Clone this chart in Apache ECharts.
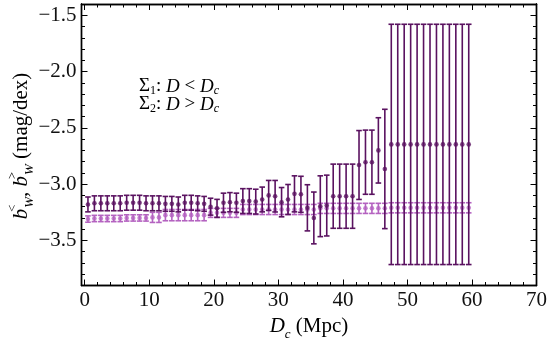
<!DOCTYPE html>
<html><head><meta charset="utf-8">
<script src="https://cdn.jsdelivr.net/npm/echarts@6/dist/echarts.min.js"></script>
<style>html,body{margin:0;padding:0;background:#fff}#c{width:550px;height:347px}</style>
</head><body><div id="c"></div>
<script>
// ---- data ----
const dc = [0.5,1.5,2.5,3.5,4.5,5.5,6.5,7.5,8.5,9.5,10.5,11.5,12.5,13.5,14.5,15.5,16.5,17.5,18.5,19.5,
  20.5,21.5,22.5,23.5,24.5,25.5,26.5,27.5,28.5,29.5,30.5,31.5,32.5,33.5,34.5,35.5,36.5,37.5,38.5,39.5,
  40.5,41.5,42.5,43.5,44.5,45.5,46.5,47.5,48.5,49.5,50.5,51.5,52.5,53.5,54.5,55.5,56.5,57.5,58.5,59.5];
const sigma1Val = [-3.31,-3.305,-3.305,-3.305,-3.305,-3.305,-3.3,-3.3,-3.3,-3.3,
  -3.295,-3.295,-3.275,-3.275,-3.275,-3.275,-3.275,-3.275,-3.275,-3.255,
  -3.255,-3.255,-3.255,-3.255,-3.225,-3.225,-3.225,-3.225,-3.225,-3.225,
  -3.225,-3.225,-3.225,-3.225,-3.225,-3.225,-3.215,-3.215,-3.215,-3.215,
  -3.215,-3.215,-3.215,-3.215,-3.215,-3.215,-3.215,-3.21,-3.21,-3.21,
  -3.21,-3.21,-3.21,-3.21,-3.21,-3.21,-3.21,-3.21,-3.21,-3.21];
const sigma1Err = [0.028,0.028,0.028,0.028,0.028,0.028,0.028,0.028,0.028,0.028,
  0.045,0.045,0.05,0.05,0.05,0.05,0.05,0.05,0.05,0.04,
  0.04,0.04,0.04,0.04,0.045,0.045,0.045,0.045,0.045,0.045,
  0.045,0.045,0.045,0.045,0.045,0.045,0.045,0.045,0.045,0.045,
  0.045,0.045,0.045,0.045,0.045,0.045,0.045,0.045,0.045,0.045,
  0.045,0.045,0.045,0.045,0.045,0.045,0.045,0.045,0.045,0.045];
const sigma2Val = [-3.18,-3.17,-3.17,-3.17,-3.17,-3.17,-3.165,-3.165,-3.165,-3.17,
  -3.17,-3.17,-3.175,-3.175,-3.18,-3.165,-3.165,-3.17,-3.175,-3.2,
  -3.215,-3.165,-3.16,-3.165,-3.15,-3.15,-3.155,-3.136,-3.1,-3.107,
  -3.16,-3.136,-3.086,-3.09,-3.21,-3.3,-3.196,-3.19,-3.107,-3.107,
  -3.107,-3.107,-2.83,-2.805,-2.805,-2.7,-2.865,-2.647,-2.647,-2.647,
  -2.647,-2.647,-2.647,-2.647,-2.647,-2.647,-2.647,-2.647,-2.647,-2.647];
const sigma2Err = [0.066,0.066,0.066,0.066,0.066,0.066,0.066,0.066,0.066,0.066,
  0.066,0.066,0.066,0.066,0.066,0.066,0.066,0.066,0.066,0.075,
  0.08,0.085,0.085,0.085,0.11,0.11,0.11,0.11,0.133,0.14,
  0.13,0.133,0.16,0.16,0.205,0.23,0.27,0.27,0.285,0.285,
  0.285,0.285,0.306,0.285,0.285,0.29,0.53,1.067,1.067,1.067,
  1.067,1.067,1.067,1.067,1.067,1.067,1.067,1.067,1.067,1.067];
const xTicks = [0,10,20,30,40,50,60,70];
const yTicks = [-3.5,-3.0,-2.5,-2.0,-1.5];
const xMinor = [2,4,6,8,12,14,16,18,22,24,26,28,32,34,36,38,42,44,46,48,52,54,56,58,62,64,66,68];
const yMinor = [-3.8,-3.7,-3.6,-3.4,-3.3,-3.2,-3.1,-2.9,-2.8,-2.7,-2.6,-2.4,-2.3,-2.2,-2.1,-1.9,-1.8,-1.7,-1.6];

// ---- style ----
const DARK = '#5a1260';
const LIGHT = '#b462c0';
const FONT = '"Liberation Serif", "DejaVu Serif", serif';
const X_MIN = -0.5, X_MAX = 70, Y_MIN = -3.9, Y_MAX = -1.4;

function errRender(color, capHalf, lw) {
  return function (params, api) {
    const x = api.value(0), lo = api.value(1), hi = api.value(2);
    const a = api.coord([x, lo]), b = api.coord([x, hi]);
    const st = { stroke: color, lineWidth: lw, fill: null };
    return { type: 'group', children: [
      { type: 'line', shape: { x1: a[0], y1: a[1], x2: b[0], y2: b[1] }, style: st },
      { type: 'line', shape: { x1: a[0] - capHalf, y1: a[1], x2: a[0] + capHalf, y2: a[1] }, style: st },
      { type: 'line', shape: { x1: b[0] - capHalf, y1: b[1], x2: b[0] + capHalf, y2: b[1] }, style: st }
    ]};
  };
}
const bars1 = dc.map((x, i) => [x, sigma1Val[i] - sigma1Err[i], sigma1Val[i] + sigma1Err[i]]);
const bars2 = dc.map((x, i) => [x, sigma2Val[i] - sigma2Err[i], sigma2Val[i] + sigma2Err[i]]);
const pts1 = dc.map((x, i) => [x, sigma1Val[i]]);
const pts2 = dc.map((x, i) => [x, sigma2Val[i]]);

const lineSt = { show: true, onZero: false, lineStyle: { color: '#000', width: 1.4 } };
function xAx(pos, ticks, len, labels) {
  return { type: 'value', min: X_MIN, max: X_MAX, position: pos,
    axisLine: lineSt, splitLine: { show: false },
    axisTick: { show: true, inside: true, length: len, customValues: ticks, lineStyle: { color: '#000', width: 1 } },
    axisLabel: labels ? { show: true, customValues: ticks, color: '#111', fontFamily: FONT, fontSize: 21, margin: 4 } : { show: false } };
}
function yAx(pos, ticks, len, labels) {
  return { type: 'value', min: Y_MIN, max: Y_MAX, position: pos,
    axisLine: lineSt, splitLine: { show: false },
    axisTick: { show: true, inside: true, length: len, customValues: ticks, lineStyle: { color: '#000', width: 1 } },
    axisLabel: labels ? { show: true, customValues: ticks, color: '#111', fontFamily: FONT, fontSize: 21, margin: 5,
      formatter: v => v.toFixed(1).replace('-', '\u2212') } : { show: false } };
}

const richBase = {
  n: { fontFamily: FONT, fontSize: 21, color: '#222', lineHeight: 30, verticalAlign: 'middle' },
  i: { fontFamily: FONT, fontSize: 21, fontStyle: 'italic', color: '#222', lineHeight: 30, verticalAlign: 'middle' },
  sub: { fontFamily: FONT, fontSize: 13, fontStyle: 'italic', color: '#222', verticalAlign: 'bottom', lineHeight: 30 },
  supz: { fontFamily: FONT, fontSize: 13, color: '#222', verticalAlign: 'top', lineHeight: 30, width: 1 }
};
function legRich(color) {
  return {
    n: { fontFamily: FONT, fontSize: 19, color: color, lineHeight: 20 },
    i: { fontFamily: FONT, fontSize: 19, fontStyle: 'italic', color: color, lineHeight: 20 },
    s: { fontFamily: FONT, fontSize: 19, color: color, lineHeight: 20 },
    sub: { fontFamily: FONT, fontSize: 12, color: color, verticalAlign: 'bottom', lineHeight: 20 },
    subi: { fontFamily: FONT, fontSize: 12, fontStyle: 'italic', color: color, verticalAlign: 'bottom', lineHeight: 20 }
  };
}

const chart = echarts.init(document.getElementById('c'), null, { renderer: 'canvas' });
chart.setOption({
  animation: false,
  backgroundColor: '#fff',
  grid: { left: 81.5, right: 13.5, top: 4, bottom: 61.5, containLabel: false, outerBoundsMode: 'none' },
  xAxis: [xAx('bottom', xTicks, 6, true), xAx('bottom', xMinor, 3.5, false), xAx('top', xTicks, 6, false), xAx('top', xMinor, 3.5, false)],
  yAxis: [yAx('left', yTicks, 6, true), yAx('left', yMinor, 3.5, false), yAx('right', yTicks, 6, false), yAx('right', yMinor, 3.5, false)],
  series: [
    { type: 'custom', name: 'Σ1 bars', data: bars1, encode: { x: 0, y: [1, 2] }, renderItem: errRender(LIGHT, 2.8, 1.6), z: 2 },
    { type: 'scatter', name: 'Σ1', data: pts1, symbol: 'circle', symbolSize: 4.6, itemStyle: { color: LIGHT }, z: 3 },
    { type: 'custom', name: 'Σ2 bars', data: bars2, encode: { x: 0, y: [1, 2] }, renderItem: errRender(DARK, 2.8, 1.6), z: 4 },
    { type: 'scatter', name: 'Σ2', data: pts2, symbol: 'circle', symbolSize: 4.6, itemStyle: { color: DARK }, z: 5 }
  ],
  graphic: [
    { type: 'text', left: 139, top: 77, style: { text: '{s|Σ}{sub|1}{n|: }{i|D}{n| < }{i|D}{subi|c}', rich: legRich(LIGHT) } },
    { type: 'text', left: 139, top: 95, style: { text: '{s|Σ}{sub|2}{n|: }{i|D}{n| > }{i|D}{subi|c}', rich: legRich(DARK) } },
    { type: 'text', x: 309, y: 326, style: { text: '{i|D}{sub|c}{n| (Mpc)}', rich: richBase, align: 'center', verticalAlign: 'middle' } },
    { type: 'text', x: 21, y: 146, rotation: Math.PI / 2,
      style: { text: '{i|b}{supz|<}{sub|W}{n|, }{i|b}{supz|>}{sub|W}{n| (mag/dex)}', rich: richBase, align: 'center', verticalAlign: 'middle' } }
  ]
});
</script></body></html>
